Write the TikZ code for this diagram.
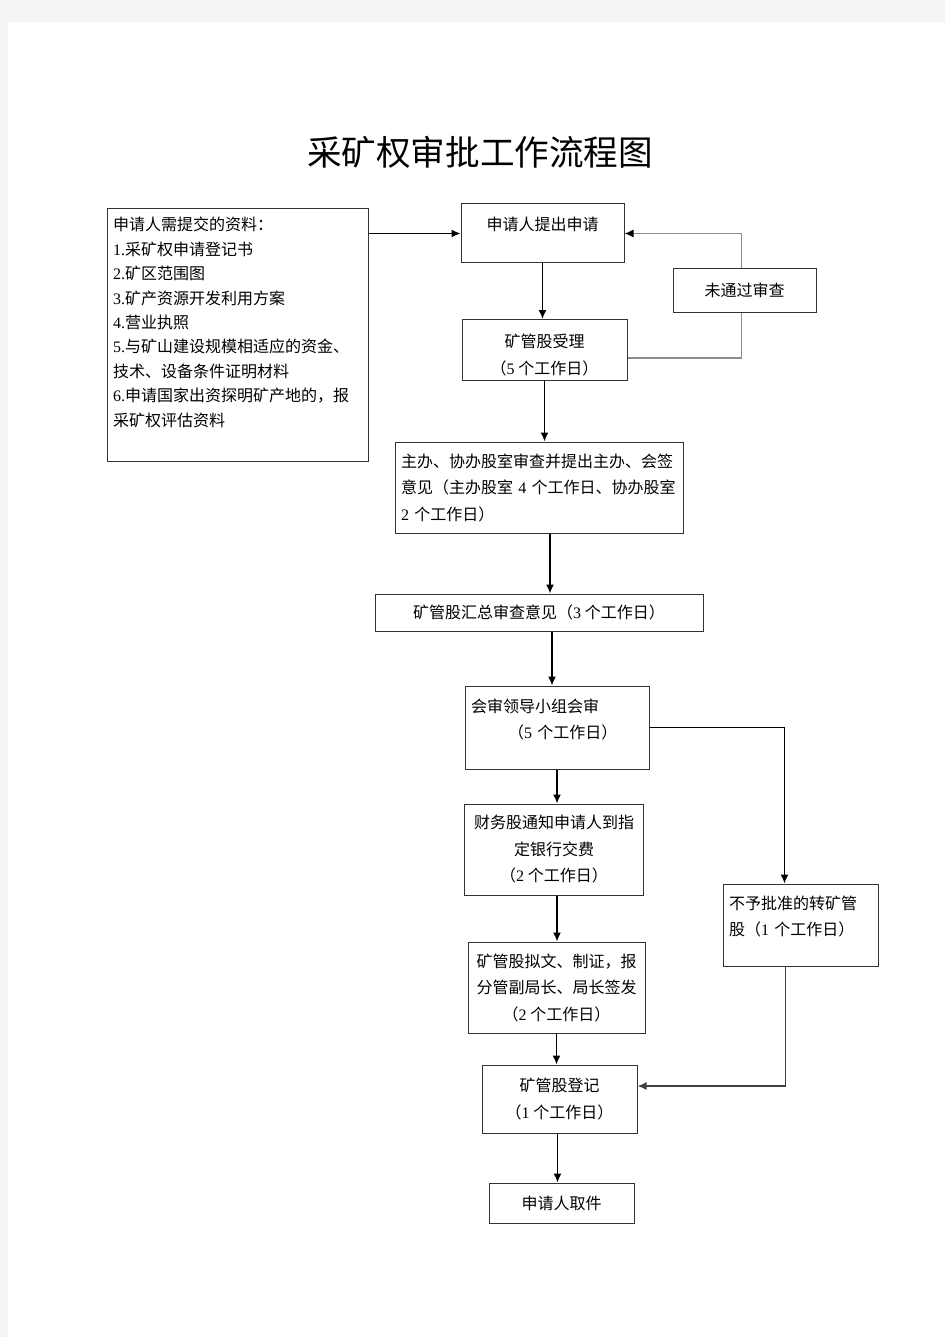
\documentclass[tikz,border=0pt]{standalone}
\usepackage{fontspec}
\setmainfont{Noto Sans CJK SC}
\newfontfamily\tnr{Liberation Serif}
\newcommand\sz[1]{{\tnr #1}}
\usepackage{tikz}
\usetikzlibrary{calc,positioning,arrows.meta}
\definecolor{pagegray}{HTML}{F4F4F4}

\begin{document}
\begin{tikzpicture}[x=1pt,y=-1pt]
\tikzstyle{blk}=[draw=black!80, line width=1pt, inner sep=0pt, align=center, font=\fontsize{16pt}{26.5pt}\selectfont]
\tikzstyle{arr}=[line width=1.5pt, -{Latex[length=9pt, width=8pt]}]
\tikzstyle{ret}=[line width=1.3pt, draw=black!45]

\useasboundingbox (0,0) rectangle (945,1337);
\fill[pagegray] (0,0) rectangle (945,1337);
\fill[white] (8,22) rectangle (945,1337);

\node (title) at (480,152) {\fontsize{34.6pt}{40pt}\selectfont 采矿权审批工作流程图};

\node[blk, align=left, text width=249pt, minimum width=261pt, minimum height=252pt,
  font=\fontsize{16pt}{24.4pt}\selectfont] (info) at (237.5,335)
  {申请人需提交的资料：\\
   \sz{1.}采矿权申请登记书\\
   \sz{2.}矿区范围图\\
   \sz{3.}矿产资源开发利用方案\\
   \sz{4.}营业执照\\
   \sz{5.}与矿山建设规模相适应的资金、\\
   技术、设备条件证明材料\\
   \sz{6.}申请国家出资探明矿产地的，报\\
   采矿权评估资料\\[2pt]\mbox{}};
\node[blk, minimum width=163pt, minimum height=59pt] (req) at (542.5,233.5) {申请人提出申请\\[-7pt]\mbox{}};
\node[blk, minimum width=143pt, minimum height=43pt] (fail) at (744.5,290.5) {未通过审查};
\node[blk, minimum width=165pt, minimum height=61pt] (accept) at (544.5,350) {\mbox{}\\[-3pt]矿管股受理\\（\sz{5} 个工作日）};
\node[blk, align=left, text width=276pt, minimum width=288pt, minimum height=91pt] (review) at (539,487.5)
  {主办、协办股室审查并提出主办、会签\\意见（主办股室 \sz{4} 个工作日、协办股室\\\sz{2} 个工作日）};
\node[blk, minimum width=328pt, minimum height=37pt] (summary) at (539,612.5) {矿管股汇总审查意见（\sz{3} 个工作日）};
\node[blk, align=left, text width=172pt, minimum width=184pt, minimum height=83pt] (meeting) at (557,727.5)
  {会审领导小组会审\\\hspace*{37pt}（\sz{5} 个工作日）\\[-9pt]\mbox{}};
\node[blk, minimum width=179pt, minimum height=91pt] (fee) at (554,849.5) {财务股通知申请人到指\\定银行交费\\（\sz{2} 个工作日）};
\node[blk, align=left, text width=143pt, minimum width=155pt, minimum height=82pt] (deny) at (800.5,925)
  {不予批准的转矿管\\股（\sz{1} 个工作日）\\[-8pt]\mbox{}};
\node[blk, minimum width=177pt, minimum height=91pt] (draft) at (556.5,987.5) {矿管股拟文、制证，报\\分管副局长、局长签发\\（\sz{2} 个工作日）};
\node[blk, minimum width=155pt, minimum height=68pt] (register) at (559.5,1099) {矿管股登记\\（\sz{1} 个工作日）};
\node[blk, minimum width=145pt, minimum height=40pt] (pickup) at (561.5,1203) {申请人取件};

% main line
\draw[arr] (info.east |- req.west) -- (req.west);
\foreach \i/\j/\k in {req/accept/0, accept/review/0, review/summary/11, summary/meeting/13,
  meeting/fee/0, fee/draft/3, draft/register/0, register/pickup/-2}{
  \draw[arr] ([xshift=\k pt]\i.south) -- ([xshift=\k pt]\i.south |- \j.north);}

% not passed
\draw[ret] ([yshift=-8pt]accept.east) -| ([xshift=-3pt]fail.south);
\draw[ret, -{Latex[length=9pt, width=8pt, color=black]}] ([xshift=-3pt]fail.north) |- (req.east);

% rejected
\draw[arr] (meeting.east) -| ([xshift=-16pt]deny.north);
\draw[arr, draw=black!75] ([xshift=-15pt]deny.south) |- ([yshift=13pt]register.east);
\end{tikzpicture}
\end{document}
